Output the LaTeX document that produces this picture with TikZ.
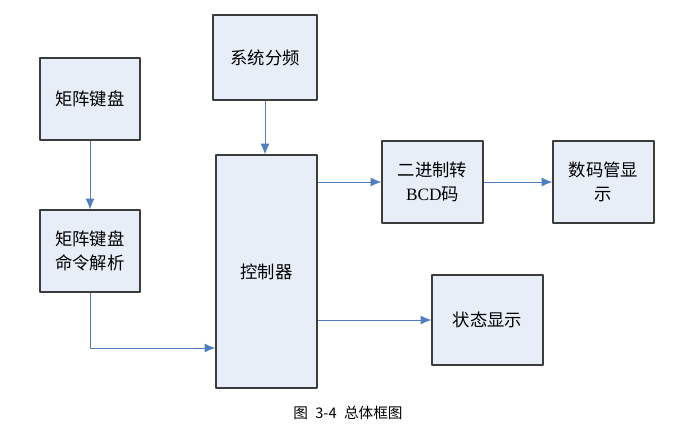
\documentclass[tikz,border=0pt]{standalone}
\usepackage{fontspec}
\setmainfont{Liberation Serif}
\newfontfamily\cjk{Noto Sans CJK SC}
\newfontfamily\latn{Liberation Serif}
\usetikzlibrary{arrows.meta}
\definecolor{boxfill}{HTML}{E8EEF8}
\definecolor{boxline}{HTML}{3C3C3C}
\definecolor{arrline}{HTML}{4F7FBF}
\begin{document}
\begin{tikzpicture}[x=0.03cm, y=-0.03cm, line join=round,
  blk/.style={draw=boxline, line width=1.1pt, fill=boxfill, align=center,
    inner sep=0pt, font=\fontsize{14.8}{20}\cjk},
  arr/.style={draw=arrline, line width=0.8pt, -{Latex[length=3.2mm,width=2.7mm]}}]
\useasboundingbox (0,0) rectangle (689,431);
% blocks
\node[blk, minimum width=3cm, minimum height=2.46cm] (kb) at (90,99) {矩阵键盘};
\node[blk, minimum width=3.12cm, minimum height=2.55cm] (fp) at (265,57.5) {系统分频};
\node[blk, minimum width=3cm, minimum height=2.46cm] (jx) at (90,251) {矩阵键盘\\命令解析};
\node[blk, minimum width=3.03cm, minimum height=6.99cm] (ctl) at (266.5,271.5) {控制器};
\node[blk, minimum width=3.03cm, minimum height=2.46cm] (bcd) at (432.5,182) {二进制转\\{\latn BCD}码};
\node[blk, minimum width=3.03cm, minimum height=2.46cm] (smg) at (603.5,182) {数码管显\\示};
\node[blk, minimum width=3.33cm, minimum height=2.7cm] (zt) at (487.5,320) {状态显示};
% connectors
\coordinate (turn) at (90,348);
\draw[arr] (kb) -- (jx);
\draw[arr] (fp) -- (fp |- ctl.north);
\draw[arr] (jx.south) -- (turn) -- (turn -| ctl.west);
\draw[arr] (ctl.east |- bcd) -- (bcd);
\draw[arr] (bcd) -- (smg);
\draw[arr] (ctl.east |- zt) -- (zt);
\node[font=\fontsize{12.5}{15}\cjk] (cap) at (348,413) {图\hspace{0.5em}3-4\hspace{0.5em}总体框图};
\end{tikzpicture}
\end{document}
